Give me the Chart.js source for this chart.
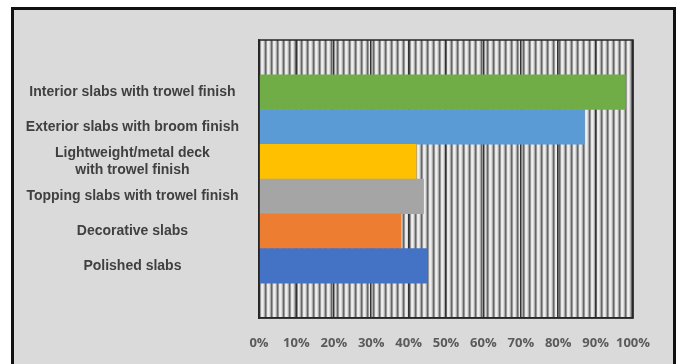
<!DOCTYPE html>
<html>
<head>
<meta charset="utf-8">
<script src="https://cdn.jsdelivr.net/npm/chart.js@4.4.1/dist/chart.umd.min.js"></script>
<style>
  html, body { margin: 0; padding: 0; background: #fff; }
  #frame {
    position: absolute; left: 11px; top: 7px;
    width: 659px; height: 370px;
    border: 3px solid #111;
    background: #dadada;
  }
  #wrap { position: absolute; left: 0; top: 0; width: 681px; height: 364px; }
</style>
</head>
<body>
<div id="frame"></div>
<div id="wrap"><canvas id="chart" width="681" height="364"></canvas></div>
<script>
// slab types, top to bottom
const categories = [
  'Interior slabs with trowel finish',
  'Exterior slabs with broom finish',
  ['Lightweight/metal deck', 'with trowel finish'],
  'Topping slabs with trowel finish',
  'Decorative slabs',
  'Polished slabs'
];
// percent of respondents
const values = [98, 87, 42, 44, 38, 45];
const barColors = ['#70ad47', '#5b9bd5', '#ffc000', '#a5a5a5', '#ed7d31', '#4472c4'];
const xTicks = [0, 10, 20, 30, 40, 50, 60, 70, 80, 90, 100];

// empty slot above and below, like the original plot area
const labels = [''].concat(categories, ['']);
const data = [null].concat(values, [null]);
const colors = ['#000'].concat(barColors, ['#000']);

// striped plot area fill (pattern fill in the original)
function makeStripes() {
  const c = document.createElement('canvas');
  c.width = 6; c.height = 4;
  const g = c.getContext('2d');
  const cols = ['#666666', '#999999', '#e6e6e6', '#efefef', '#dadada', '#ababab'];
  cols.forEach((col, i) => { g.fillStyle = col; g.fillRect(i, 0, 1, 4); });
  return c;
}

const plotArea = {
  id: 'plotArea',
  beforeDraw(chart) {
    const a = chart.chartArea, ctx = chart.ctx;
    ctx.save();
    ctx.fillStyle = ctx.createPattern(makeStripes(), 'repeat');
    ctx.translate(a.left, 0);
    ctx.fillRect(0, a.top, a.right - a.left, a.bottom - a.top);
    ctx.restore();
  },
  afterDraw(chart) {
    const a = chart.chartArea, ctx = chart.ctx;
    ctx.save();
    ctx.strokeStyle = '#262626';
    ctx.lineWidth = 1.5;
    ctx.strokeRect(a.left, a.top, a.right - a.left, a.bottom - a.top);
    ctx.restore();
  }
};

new Chart(document.getElementById('chart'), {
  type: 'bar',
  data: {
    labels: labels,
    datasets: [{
      data: data,
      backgroundColor: colors,
      borderWidth: 0,
      barPercentage: 1,
      categoryPercentage: 1
    }]
  },
  options: {
    indexAxis: 'y',
    responsive: false,
    animation: false,
    layout: { padding: { left: 12, top: 40, right: 48, bottom: 0 } },
    plugins: { legend: { display: false }, tooltip: { enabled: false } },
    scales: {
      x: {
        min: 0, max: 100,
        afterBuildTicks(scale) { scale.ticks = xTicks.map(v => ({ value: v })); },
        afterFit(scale) { scale.height = 46; },
        grid: { color: '#333333', lineWidth: 1.5, drawTicks: false },
        border: { color: '#262626', width: 1.5 },
        ticks: {
          autoSkip: false,
          maxRotation: 0,
          minRotation: 0,
          padding: 17,
          color: '#5a5a5a',
          font: { family: 'Open Sans', weight: 'bold', size: 13 },
          callback: v => v + '%'
        }
      },
      y: {
        afterFit(scale) { scale.width = 247; },
        grid: { display: false, drawTicks: false },
        border: { color: '#262626', width: 1.5 },
        ticks: {
          autoSkip: false,
          crossAlign: 'center',
          padding: 20,
          color: '#404040',
          font: { family: 'Liberation Sans', weight: 'bold', size: 14, lineHeight: 1.15 }
        }
      }
    }
  },
  plugins: [plotArea]
});
</script>
</body>
</html>
